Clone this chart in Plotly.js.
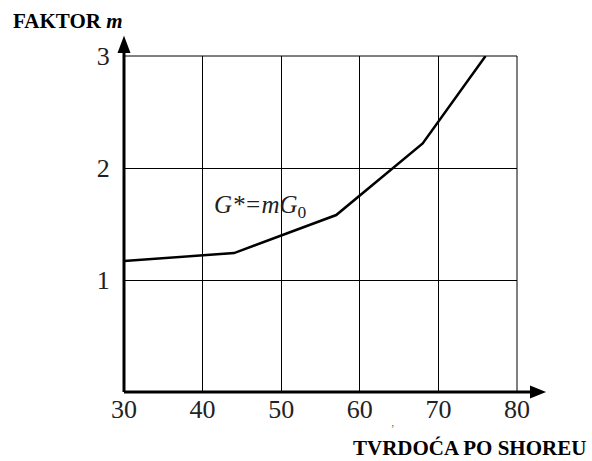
<!DOCTYPE html>
<html><head><meta charset="utf-8">
<script src="https://cdn.plot.ly/plotly-3.0.1.min.js"></script>
<style>body{margin:0;background:#fff}#c{width:592px;height:461px}</style>
</head><body><div id="c"></div>
<script>
const hardness = [30, 44, 57, 68, 76];
const factorM = [1.17, 1.24, 1.58, 2.22, 3.0];
const xTicks = [30, 40, 50, 60, 70, 80];
const yTicks = [1, 2, 3];
const yTitle = 'FAKTOR <i>m</i>';
const xTitle = 'TVRDOĆA PO SHOREU';
const formula = '<i>G*=mG</i><sub>0</sub>';

const F = '"Liberation Serif", "Times New Roman", serif';
const trace = {x: hardness, y: factorM, mode: 'lines', line: {color: '#000', width: 2.5}, hoverinfo: 'skip'};
const layout = {
  width: 592, height: 461,
  margin: {l: 124, r: 75, t: 56, b: 69},
  paper_bgcolor: '#fff', plot_bgcolor: '#fff',
  showlegend: false,
  xaxis: {range: [30, 80], tickvals: xTicks, ticktext: xTicks.map(String), showgrid: true, gridcolor: '#000', gridwidth: 1,
    zeroline: false, showline: false, ticks: '', ticklabelstandoff: -1,
    tickfont: {family: F, size: 26, color: '#222'}},
  yaxis: {range: [0, 3], tickvals: yTicks, ticktext: yTicks.map(String), showgrid: true, gridcolor: '#000', gridwidth: 1,
    zeroline: false, showline: false, ticks: 'outside', ticklen: 8, tickcolor: 'rgba(0,0,0,0)',
    tickfont: {family: F, size: 26, color: '#222'}},
  shapes: [
    {type: 'line', xref: 'paper', yref: 'paper', x0: 1, x1: 1, y0: 0, y1: 1, line: {color: '#000', width: 1}},
    {type: 'line', xref: 'paper', yref: 'paper', x0: 0, x1: 1, y0: 1, y1: 1, line: {color: '#000', width: 1}},
    {type: 'line', xref: 'paper', yref: 'paper', x0: 0, x1: 0, y0: 0, y1: 1.02, line: {color: '#000', width: 3}},
    {type: 'line', xref: 'paper', yref: 'paper', x0: 0, x1: 1.04, y0: 0, y1: 0, line: {color: '#000', width: 3}},
    {type: 'path', xref: 'paper', yref: 'paper', path: 'M -0.0165 1.009 L 0 1.06 L 0.0165 1.009 Z', fillcolor: '#000', line: {width: 0}},
    {type: 'path', xref: 'paper', yref: 'paper', path: 'M 1.033 -0.019 L 1.074 0 L 1.033 0.019 Z', fillcolor: '#000', line: {width: 0}}
  ],
  annotations: [
    {text: yTitle, xref: 'paper', yref: 'paper', x: -0.287, y: 1.103, xanchor: 'left', yanchor: 'middle', showarrow: false,
      font: {family: F, size: 21, color: '#000', weight: 'bold'}},
    {text: xTitle, xref: 'paper', yref: 'paper', x: 1.18, y: -0.166, xanchor: 'right', yanchor: 'middle', showarrow: false,
      font: {family: F, size: 21, color: '#000', weight: 'bold'}},
    {text: formula, xref: 'x', yref: 'y', x: 41.2, y: 1.66, xanchor: 'left', yanchor: 'middle', showarrow: false,
      font: {family: F, size: 25, color: '#222'}},
    {text: 'ʼ', xref: 'paper', yref: 'paper', x: 0.682, y: -0.11, xanchor: 'center', yanchor: 'middle', showarrow: false,
      font: {family: F, size: 10, color: '#444'}}
  ]
};
Plotly.newPlot('c', [trace], layout, {staticPlot: true, displayModeBar: false});
</script></body></html>
